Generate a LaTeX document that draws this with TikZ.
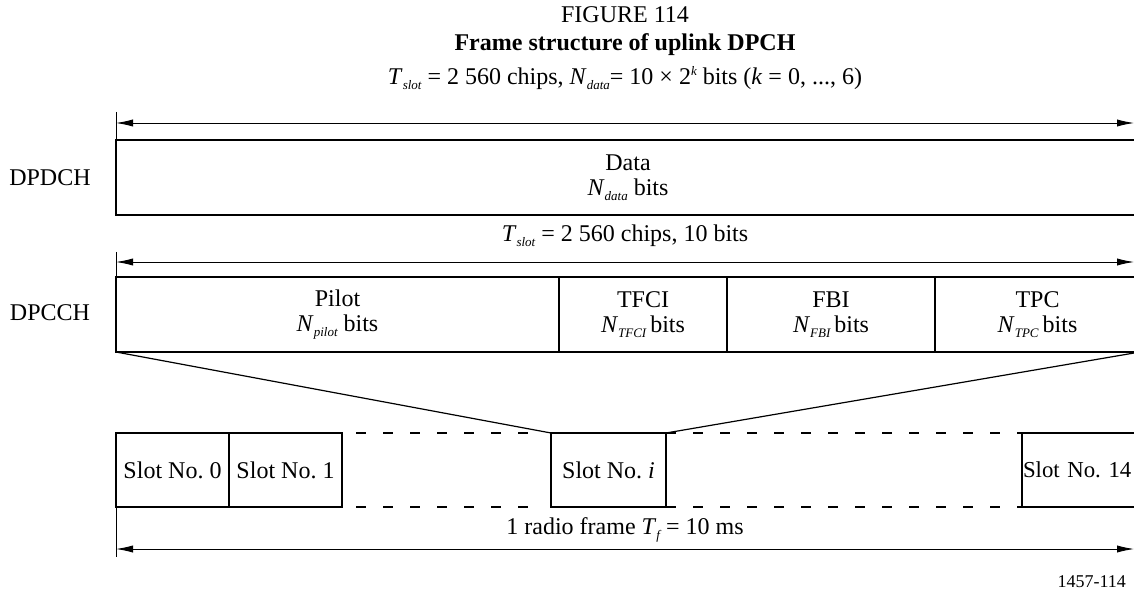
\documentclass[tikz,border=0pt]{standalone}
\usepackage{fontspec}
\setmainfont{Liberation Serif}
\usepackage{tikz}
\usetikzlibrary{arrows.meta}

\newcommand{\lowsub}[1]{\raisebox{-0.45ex}{\fontsize{6.5}{6.5}\selectfont\itshape #1}}
\newcommand{\highsup}[1]{\raisebox{0.85ex}{\fontsize{6.5}{6.5}\selectfont\itshape #1}}

\tikzset{
    field/.style={draw,line width=1pt,anchor=north west,inner sep=0pt,outer sep=0pt,align=center},
    span/.style={line width=0.45pt,{Latex[length=8.5pt,width=3.6pt]}-{Latex[length=8.5pt,width=3.6pt]}},
    gapline/.style={line width=1pt,dash pattern=on 5pt off 8.5pt},
}

\begin{document}
\begin{tikzpicture}[x=0.5pt,y=-0.5pt,font=\fontsize{12}{12.5}\selectfont]
    \useasboundingbox (0,0) rectangle (1134,593);

    \coordinate (T1) at (116,112);
    \coordinate (A1) at (116,123);
    \coordinate (B1) at (1134,123);
    \coordinate (T2) at (116,252);
    \coordinate (A2) at (116,262);
    \coordinate (B2) at (1134,262);
    \coordinate (T3) at (116,557);
    \coordinate (A3) at (116,549);
    \coordinate (B3) at (1134,549);

    \node (fig) at (625,15) {FIGURE 114};
    \node[font=\fontsize{12}{12.5}\selectfont\bfseries] (title) at (625,45) {Frame structure of uplink DPCH};
    \node (toplab) at (625,78) {\textit{T}\lowsub{slot} = 2 560 chips, \textit{N}\lowsub{data}= 10 × 2\highsup{k} bits (\textit{k} = 0, ..., 6)};

    \node[field,minimum width=512pt,minimum height=37.5pt] (dpdch) at (116,140) {Data\\\textit{N}\lowsub{data} bits};
    \node (dpdchlab) at (50,178) {DPDCH};

    \node (midlab) at (625,236) {\textit{T}\lowsub{slot} = 2 560 chips, 10 bits};

    \node[field,minimum width=221.5pt,minimum height=37.5pt] (pilot) at (116,277) {Pilot\\\textit{N}\lowsub{pilot} bits};
    \node[field,minimum width=84pt,minimum height=37.5pt] (tfci) at (pilot.north east) {TFCI\\\textit{N}\lowsub{TFCI}\,bits};
    \node[field,minimum width=104pt,minimum height=37.5pt] (fbi) at (tfci.north east) {FBI\\\textit{N}\lowsub{FBI}\,bits};
    \node[field,minimum width=102.5pt,minimum height=37.5pt] (tpc) at (fbi.north east) {TPC\\\textit{N}\lowsub{TPC}\,bits};
    \node (dpcchlab) at (50,313) {DPCCH};

    \node[field,minimum width=56.5pt,minimum height=37pt] (slot0) at (116,433) {Slot No.\ 0};
    \node[field,minimum width=56.5pt,minimum height=37pt] (slot1) at (slot0.north east) {Slot No.\ 1};
    \node[field,minimum width=57.5pt,minimum height=37pt] (sloti) at (551,433) {Slot No.\ \textit{i}};
    \node[field,minimum width=59pt,minimum height=37pt,text width=58pt,align=left,inner xsep=0.5pt,font=\fontsize{11.4}{12}\selectfont] (slot14) at (1022,433) {\mbox{Slot No.\ 14}};

    \node (botlab) at (625,530) {1 radio frame \textit{T}\lowsub{f} = 10 ms};
    \node[font=\fontsize{9}{9}\selectfont,anchor=base east] (ref) at (1133,587) {1457-114};

    \draw[line width=0.5pt] (T1) -- (dpdch.north west);
    \draw[span] (A1) -- (B1);
    \draw[line width=0.5pt] (T2) -- (pilot.north west);
    \draw[span] (A2) -- (B2);
    \draw[line width=0.5pt] (slot0.south west) -- (T3);
    \draw[span] (A3) -- (B3);

    \draw[line width=0.6pt] (pilot.south west) -- (sloti.north west);
    \draw[line width=0.6pt] (tpc.south east) -- (sloti.north east);

    \draw[gapline,dash phase=6.5pt,shorten >=3.5pt] (slot1.north east) -- (sloti.north west);
    \draw[gapline,dash phase=6.5pt,shorten >=3.5pt] (slot1.south east) -- (sloti.south west);
    \draw[gapline] (sloti.north east) -- (slot14.north west);
    \draw[gapline] (sloti.south east) -- (slot14.south west);
\end{tikzpicture}
\end{document}
